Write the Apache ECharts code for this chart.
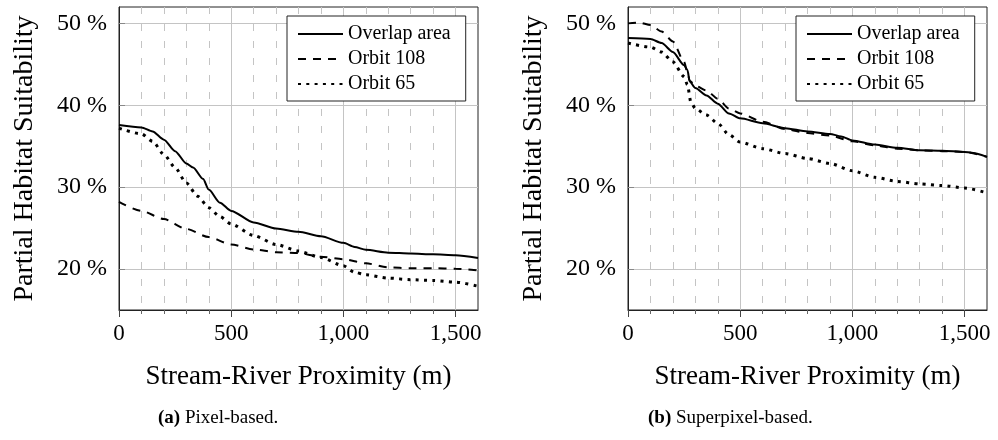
<!DOCTYPE html>
<html>
<head>
<meta charset="utf-8">
<script src="https://cdn.jsdelivr.net/npm/echarts@6/dist/echarts.min.js"></script>
<style>
  html, body { margin: 0; padding: 0; background: #fff; }
  #chart { width: 998px; height: 440px; }
</style>
</head>
<body>
<div id="chart"></div>
<script>
// tick values
const xMajor = [0, 500, 1000, 1500]
const xMinor = [100, 200, 300, 400, 600, 700, 800, 900, 1100, 1200, 1300, 1400]
const yTicks = [20, 30, 40, 50]
const seriesNames = ['Overlap area', 'Orbit 108', 'Orbit 65']

// (a) pixel-based
const pixX = [0, 100, 150, 200, 250, 300, 330, 375, 400, 450, 500, 600, 700, 800, 900, 1000, 1050, 1100, 1200, 1300, 1400, 1500, 1600]
const pixOverlap = [37.6, 37.3, 36.8, 35.8, 34.4, 32.9, 32.4, 31.0, 29.7, 28.1, 27.1, 25.7, 24.95, 24.55, 24.0, 23.2, 22.7, 22.35, 22.0, 21.9, 21.8, 21.7, 21.35]
const pixX108 = [0, 100, 200, 300, 400, 500, 600, 700, 800, 900, 1000, 1100, 1200, 1300, 1400, 1500, 1600]
const pixOrbit108 = [28.2, 27.1, 26.1, 24.9, 23.9, 23.0, 22.4, 22.05, 21.95, 21.5, 21.2, 20.7, 20.2, 20.1, 20.1, 20.05, 19.85]
const pixX65 = [0, 100, 150, 200, 250, 300, 350, 400, 450, 500, 600, 700, 800, 900, 1000, 1050, 1100, 1200, 1300, 1400, 1500, 1600]
const pixOrbit65 = [37.2, 36.5, 35.6, 34.0, 32.4, 30.5, 28.9, 27.5, 26.4, 25.5, 24.1, 23.0, 22.2, 21.4, 20.4, 19.6, 19.3, 18.9, 18.7, 18.6, 18.4, 17.9]

// (b) superpixel-based
const supX = [0, 100, 150, 200, 250, 265, 275, 300, 350, 400, 450, 500, 600, 700, 800, 900, 950, 1000, 1100, 1200, 1300, 1400, 1500, 1530, 1600]
const supOverlap = [48.2, 48.1, 47.6, 46.5, 44.9, 44.3, 42.9, 42.1, 41.2, 40.2, 39.0, 38.4, 37.8, 37.2, 36.8, 36.5, 36.2, 35.7, 35.2, 34.8, 34.5, 34.45, 34.3, 34.2, 33.7]
const supX108 = [0, 50, 100, 150, 200, 250, 265, 275, 300, 350, 400, 450, 500, 600, 700, 800, 900, 1000, 1100, 1200, 1300, 1400, 1500, 1600]
const supOrbit108 = [50.0, 50.1, 49.8, 49.0, 47.8, 45.3, 44.0, 43.0, 42.4, 41.8, 40.8, 39.6, 39.0, 38.0, 37.1, 36.6, 36.3, 35.6, 35.1, 34.7, 34.5, 34.4, 34.3, 33.7]
const supX65 = [0, 100, 150, 200, 250, 265, 280, 300, 350, 400, 450, 500, 600, 700, 800, 900, 1000, 1100, 1200, 1300, 1400, 1500, 1600]
const supOrbit65 = [47.6, 47.1, 46.5, 45.3, 43.5, 42.5, 40.4, 39.6, 38.8, 37.8, 36.4, 35.5, 34.7, 34.1, 33.5, 32.9, 32.0, 31.2, 30.7, 30.4, 30.2, 29.9, 29.3]

const FONT = 'Liberation Serif'
const gridColor = '#c4c4c4'
const lefts = [119, 628]

const pairs = (xs, ys) => xs.map((x, i) => [x, ys[i]])

let xAxis = []
let yAxis = []
let grid = []
let legend = []
lefts.forEach((left, i) => {
    grid.push({ left: left, top: 7, width: 359, height: 303, show: true, borderColor: '#222', borderWidth: 1 })
    xAxis.push({
        gridIndex: i, type: 'value', min: 0, max: 1600, position: 'bottom',
        name: 'Stream-River Proximity (m)', nameLocation: 'middle', nameGap: 53,
        nameTextStyle: { fontFamily: FONT, fontSize: 27, color: '#000' },
        axisLine: { show: true, lineStyle: { color: '#222', width: 1 } },
        axisTick: { show: true, customValues: xMajor, length: 7, lineStyle: { color: '#444' } },
        axisLabel: {
            customValues: xMajor, margin: 12, fontFamily: FONT, fontSize: 23, color: '#000',
            formatter: v => v.toLocaleString('en-US')
        },
        splitLine: { show: true, lineStyle: { color: gridColor, width: 1 } }
    })
    xAxis.push({
        gridIndex: i, type: 'value', min: 0, max: 1600, position: 'bottom',
        axisLine: { show: false },
        axisTick: { show: true, customValues: xMinor, length: 4, lineStyle: { color: '#666' } },
        axisLabel: { show: false, customValues: xMinor },
        splitLine: { show: true, lineStyle: { color: gridColor, width: 1, type: [7, 10] } }
    })
    yAxis.push({
        gridIndex: i, type: 'value', min: 15, max: 52,
        name: 'Partial Habitat Suitability', nameLocation: 'middle', nameGap: 80,
        nameTextStyle: { fontFamily: FONT, fontSize: 28, color: '#000' },
        axisLine: { show: true, lineStyle: { color: '#222', width: 1 } },
        axisTick: { show: true, inside: true, customValues: yTicks, length: 6, lineStyle: { color: '#888' } },
        axisLabel: {
            customValues: yTicks, margin: 12, fontFamily: FONT, fontSize: 24, color: '#000',
            formatter: v => v + ' %'
        },
        splitLine: { show: true, lineStyle: { color: gridColor, width: 1 } }
    })
    legend.push({
        data: seriesNames, orient: 'vertical', left: left + 168, top: 16,
        selectedMode: false, backgroundColor: '#fff', borderColor: '#222', borderWidth: 1,
        padding: [8, 15, 7, 10], itemWidth: 45, itemHeight: 14, itemGap: 5,
        itemStyle: { color: 'rgba(0,0,0,0)', borderWidth: 0 },
        textStyle: { fontFamily: FONT, fontSize: 20, color: '#000' }
    })
})

const styles = [
    { type: 'solid', width: 2 },
    { type: [8, 7], width: 2 },
    { type: [3, 5.3], width: 3 }
]

function line(name, data, gi, k) {
    return {
        name: name, type: 'line', xAxisIndex: gi * 2, yAxisIndex: gi,
        data: data, symbol: 'none', smooth: 0.25, smoothMonotone: 'x',
        itemStyle: { color: '#000' },
        lineStyle: Object.assign({ color: '#000', cap: 'butt' }, styles[k])
    }
}

let option = {
    animation: false,
    backgroundColor: '#fff',
    grid: grid,
    xAxis: xAxis,
    yAxis: yAxis,
    legend: legend,
    series: [
        line(seriesNames[0], pairs(pixX, pixOverlap), 0, 0),
        line(seriesNames[1], pairs(pixX108, pixOrbit108), 0, 1),
        line(seriesNames[2], pairs(pixX65, pixOrbit65), 0, 2),
        line(seriesNames[0], pairs(supX, supOverlap), 1, 0),
        line(seriesNames[1], pairs(supX108, supOrbit108), 1, 1),
        line(seriesNames[2], pairs(supX65, supOrbit65), 1, 2)
    ],
    graphic: [
        {
            type: 'text', left: 158, top: 409,
            style: {
                text: '{b|(a)} Pixel-based.',
                font: '19px "Liberation Serif"', fill: '#000',
                rich: { b: { fontFamily: FONT, fontSize: 19, fontWeight: 'bold' } }
            }
        },
        {
            type: 'text', left: 648, top: 409,
            style: {
                text: '{b|(b)} Superpixel-based.',
                font: '19px "Liberation Serif"', fill: '#000',
                rich: { b: { fontFamily: FONT, fontSize: 19, fontWeight: 'bold' } }
            }
        }
    ]
}

let chart = echarts.init(document.getElementById('chart'))
chart.setOption(option)
</script>
</body>
</html>
